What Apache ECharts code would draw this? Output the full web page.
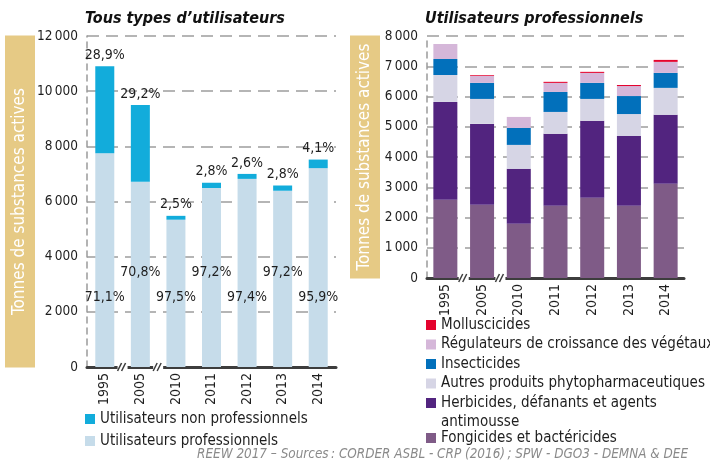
<!DOCTYPE html>
<html>
<head>
<meta charset="utf-8">
<script src="https://cdn.jsdelivr.net/npm/echarts@6/dist/echarts.min.js"></script>
<style>
  html, body { margin: 0; padding: 0; background: #fff; }
  #chart { width: 710px; height: 464px; }
</style>
</head>
<body>
<div id="chart"></div>
<script>
// Années (axe des catégories, commun aux deux graphiques)
const years = ['1995', '2005', '2010', '2011', '2012', '2013', '2014'];

// Tous types d'utilisateurs (tonnes)
const proTotal = [7750, 6720, 5340, 6490, 6820, 6390, 7210];
const nonPro = [3150, 2780, 140, 190, 180, 190, 310];
const pctPro = ['71,1%', '70,8%', '97,5%', '97,2%', '97,4%', '97,2%', '95,9%'];
const pctNonPro = ['28,9%', '29,2%', '2,5%', '2,8%', '2,6%', '2,8%', '4,1%'];

// Utilisateurs professionnels, par type de produit (tonnes)
const fongicides = [2585, 2420, 1795, 2390, 2650, 2385, 3115];
const herbicides = [3235, 2675, 1815, 2375, 2545, 2310, 2280];
const autres = [890, 825, 790, 725, 725, 725, 890];
const insecticides = [530, 530, 560, 660, 530, 595, 495];
const regulateurs = [495, 230, 365, 300, 330, 330, 365];
const molluscicides = [0, 25, 0, 35, 35, 35, 65];

// Ruptures d'échelle de l'axe x (après 1995 et après 2005)
const breakAfter = [0, 1];

const FONT = "'DejaVu Sans Condensed', sans-serif";
const INK = '#1e1e1e';
const AXIS_NAME = 'Tonnes de substances actives';
const HERB = 'Herbicides, défanants et agents antimousse';

const fmtThousands = (v) => String(v).replace(/\B(?=(\d{3})+$)/g, '\u2009');

// largeur du texte, pour que le bandeau doré couvre toute la hauteur de l'axe
const measure = document.createElement('canvas').getContext('2d');
measure.font = "17px 'DejaVu Sans Condensed'";
const nameWidth = measure.measureText(AXIS_NAME).width;

function yAxisCfg(gridIndex, max, interval, boxLen, gap) {
  const side = Math.max(0, (boxLen - nameWidth) / 2);
  return {
    type: 'value', gridIndex, min: 0, max, interval,
    name: AXIS_NAME,
    nameLocation: 'middle', nameRotate: 90, nameGap: gap, nameMoveOverlap: false,
    nameTextStyle: {
      color: '#fff', fontFamily: FONT, fontSize: 17, lineHeight: 20,
      backgroundColor: '#e6ca85', padding: [5, side, 5, side]
    },
    axisLine: { show: true, lineStyle: { color: '#9a9a9a', width: 1.5, type: [6, 5] } },
    axisTick: { show: false },
    axisLabel: { color: INK, fontFamily: FONT, fontSize: 13.5, margin: 9, formatter: fmtThousands },
    splitLine: { lineStyle: { color: '#b5b5b5', width: 2, type: [12, 7] } }
  };
}

function xAxisCfg(gridIndex) {
  return {
    type: 'category', gridIndex, data: years,
    axisLine: { lineStyle: { color: '#3d3d3d', width: 3 } },
    axisTick: { inside: true, length: 5, lineStyle: { color: '#3d3d3d', width: 1.5 } },
    axisLabel: { rotate: 90, color: INK, fontFamily: FONT, fontSize: 14, margin: 6 }
  };
}

function breakSeries(axisIndex) {
  return {
    type: 'custom', xAxisIndex: axisIndex, yAxisIndex: axisIndex,
    data: breakAfter.map((i) => [i, 0]), silent: true, clip: false, z: 10,
    renderItem: (params, api) => {
      const p = api.coord([api.value(0), 0]);
      const x = p[0] + api.size([1, 0])[0] / 2;
      const y = p[1];
      const stroke = { stroke: '#3d3d3d', lineWidth: 1.5 };
      return {
        type: 'group',
        children: [
          { type: 'rect', shape: { x: x - 5, y: y - 7, width: 10, height: 11 }, style: { fill: '#fff' } },
          { type: 'line', shape: { x1: x - 5, y1: y + 4, x2: x - 1, y2: y - 4 }, style: stroke },
          { type: 'line', shape: { x1: x - 1, y1: y + 4, x2: x + 3, y2: y - 4 }, style: stroke }
        ]
      };
    }
  };
}

function stackBar(name, data, color) {
  return {
    name, type: 'bar', stack: 'pro', xAxisIndex: 1, yAxisIndex: 1,
    barWidth: 24, data, itemStyle: { color }
  };
}

const legendBase = {
  orient: 'vertical', itemWidth: 10, itemHeight: 10, padding: 0,
  icon: 'rect', selectedMode: false,
  textStyle: { color: INK, fontFamily: FONT, fontSize: 15, lineHeight: 18 }
};

const chart = echarts.init(document.getElementById('chart'), null, { renderer: 'canvas' });

chart.setOption({
  animation: false,
  backgroundColor: '#fff',
  textStyle: { fontFamily: FONT },
  title: [
    { text: 'Tous types d\u2019utilisateurs', left: 85, top: 11, padding: 0,
      textStyle: { fontFamily: FONT, fontSize: 16, fontStyle: 'italic', fontWeight: 'bold', color: '#111' } },
    { text: 'Utilisateurs professionnels', left: 425, top: 11, padding: 0,
      textStyle: { fontFamily: FONT, fontSize: 16, fontStyle: 'italic', fontWeight: 'bold', color: '#111' } },
    { text: 'REEW 2017 \u2013 Sources\u202f: CORDER ASBL - CRP (2016)\u202f; SPW - DGO3 - DEMNA & DEE',
      right: 22, top: 448, padding: 0,
      textStyle: { fontFamily: FONT, fontSize: 13.4, fontStyle: 'italic', fontWeight: 'normal', color: '#8a8a8a' } },
    // seconde ligne de la légende « Herbicides… »
    { text: 'antimousse', left: 441, top: 413, padding: 0,
      textStyle: { fontFamily: FONT, fontSize: 15, lineHeight: 18, fontWeight: 'normal', color: INK } }
  ],
  grid: [
    { left: 87, top: 36, width: 249, height: 331 },
    { left: 427, top: 36, width: 257, height: 242 }
  ],
  xAxis: [xAxisCfg(0), xAxisCfg(1)],
  yAxis: [yAxisCfg(0, 12000, 2000, 332, 52), yAxisCfg(1, 8000, 1000, 243, 47)],
  legend: [
    Object.assign({}, legendBase, {
      left: 85, top: 410, itemGap: 4,
      data: ['Utilisateurs non professionnels', 'Utilisateurs professionnels']
    }),
    Object.assign({}, legendBase, {
      left: 426, top: 316, itemGap: 1.5,
      formatter: (n) => n === HERB ? 'Herbicides, défanants et agents' : n,
      data: [
        'Molluscicides',
        'Régulateurs de croissance des végétaux',
        'Insecticides',
        'Autres produits phytopharmaceutiques',
        HERB
      ]
    }),
    Object.assign({}, legendBase, {
      left: 426, top: 429,
      data: ['Fongicides et bactéricides']
    })
  ],
  series: [
    {
      name: 'Utilisateurs professionnels', type: 'bar', stack: 'all',
      xAxisIndex: 0, yAxisIndex: 0, barWidth: 19,
      itemStyle: { color: '#c6dcea' },
      data: proTotal.map((v, i) => ({
        value: v,
        label: { distance: i % 2 === 0 ? 63 : 88 }
      })),
      label: {
        show: true, position: 'insideBottom', color: INK, fontFamily: FONT, fontSize: 14,
        formatter: (p) => pctPro[p.dataIndex]
      }
    },
    {
      name: 'Utilisateurs non professionnels', type: 'bar', stack: 'all',
      xAxisIndex: 0, yAxisIndex: 0, barWidth: 19,
      itemStyle: { color: '#12acdb' },
      data: nonPro,
      label: {
        show: true, position: 'top', distance: 4, color: INK, fontFamily: FONT, fontSize: 14,
        formatter: (p) => pctNonPro[p.dataIndex]
      }
    },
    stackBar('Fongicides et bactéricides', fongicides, '#7f5b87'),
    stackBar(HERB, herbicides, '#52247f'),
    stackBar('Autres produits phytopharmaceutiques', autres, '#d6d5e5'),
    stackBar('Insecticides', insecticides, '#0270bb'),
    stackBar('Régulateurs de croissance des végétaux', regulateurs, '#d5b7d9'),
    stackBar('Molluscicides', molluscicides, '#e4032e'),
    breakSeries(0),
    breakSeries(1)
  ]
});
</script>
</body>
</html>
